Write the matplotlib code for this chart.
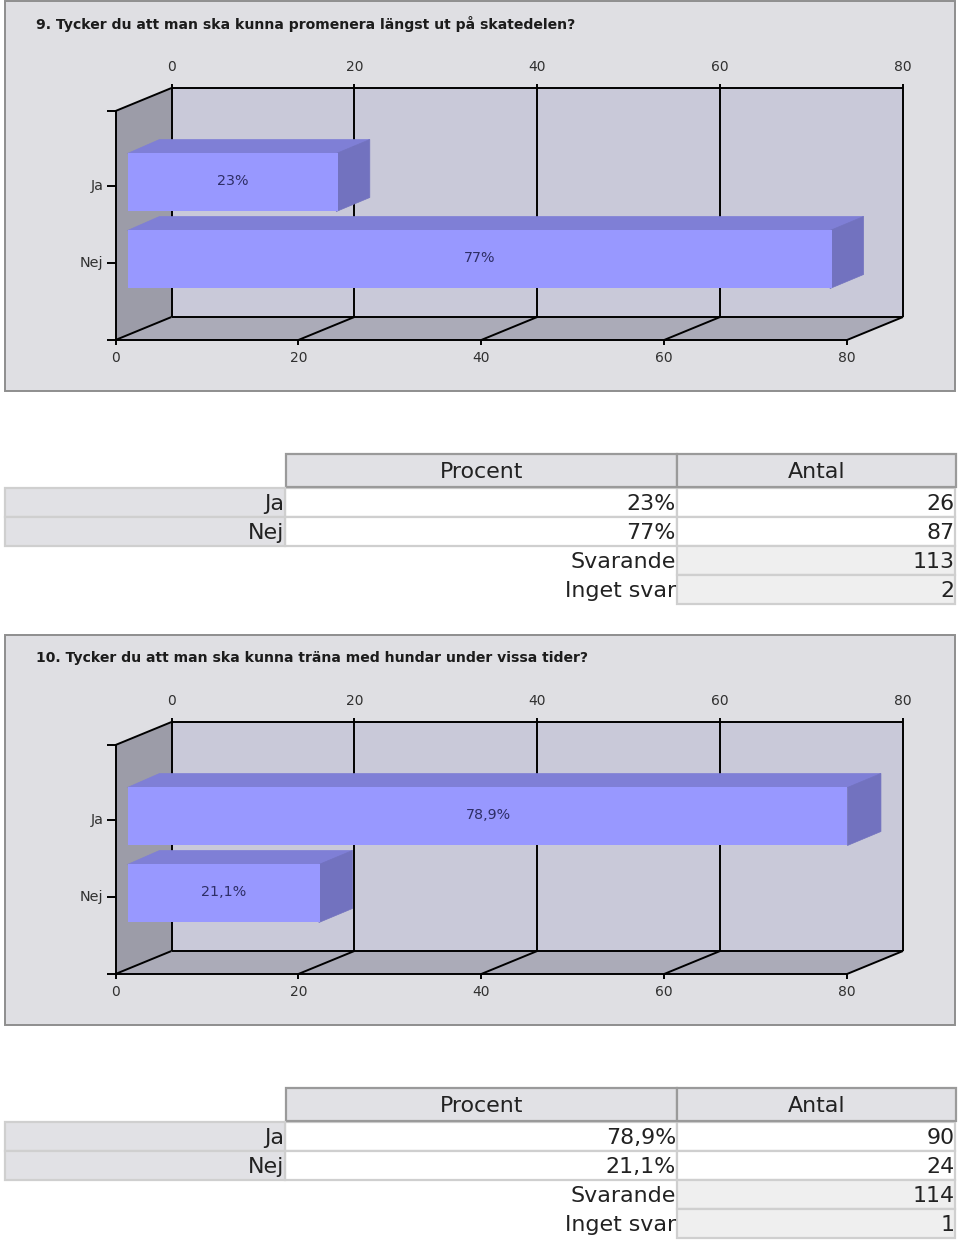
#!/usr/bin/env python3
"""Two survey questions: fake-3D bar charts with their answer tables."""

import matplotlib

matplotlib.use("Agg")
import matplotlib.pyplot as plt  # noqa: E402
from matplotlib.patches import Polygon, Rectangle  # noqa: E402

W, H = 960, 1240

titles = [
    "9. Tycker du att man ska kunna promenera längst ut på skatedelen?",
    "10. Tycker du att man ska kunna träna med hundar under vissa tider?",
]
categories = ["Ja", "Nej"]
percent_q9 = [23, 77]
percent_q10 = [78.9, 21.1]
bar_labels_q9 = ["23%", "77%"]
bar_labels_q10 = ["78,9%", "21,1%"]
counts_q9 = ["26", "87", "113", "2"]
counts_q10 = ["90", "24", "114", "1"]
x_ticks = [0, 20, 40, 60, 80]
summary_rows = ["Svarande", "Inget svar"]

PANEL = "#dfdfe3"
PANEL_EDGE = "#8e8e8e"
BACK = "#c9c9d9"
WALL = "#9c9ca8"
FLOOR = "#ababb8"
BAR_FRONT = "#9898ff"
BAR_TOP = "#7f7fd6"
BAR_SIDE = "#7272bf"
CELL = "#e1e1e5"
CELL_LIGHT = "#efefef"
RULE = "#cfcfcf"

# depth of the box and of each bar, in pixels
DEPTH_X, DEPTH_Y = 56, 23
BAR_DX, BAR_DY = 32, 14
PX_PER_UNIT = (847 - 115.5) / 80
PX_PER_ROW = 77.0


def chart(fig, top, values, labels, title):
    # overlay for the panel, same pixel system as the reference
    page = fig.axes[0]
    page.add_patch(Rectangle((5, top), 950, 390, facecolor=PANEL, edgecolor=PANEL_EDGE, linewidth=1.4, zorder=1))
    page.text(36, top + 23, title, fontsize=10.1, fontweight="bold", color="#1c1c1c", va="center", zorder=2)

    ax = fig.add_axes([115.5 / W, 1 - (top + 339) / H, (847 - 115.5) / W, 229 / H])
    ax.set_xlim(0, 80)
    ax.set_ylim(2, -0.974)
    ax.patch.set_visible(False)
    ax.set_axis_off()

    dx = DEPTH_X / PX_PER_UNIT
    dy = DEPTH_Y / PX_PER_ROW
    y0, y1 = 2, -0.974
    x0, x1 = x_ticks[0], x_ticks[-1]

    # box: back wall, left wall, floor
    ax.add_patch(Polygon([(x0 + dx, y1 - dy), (x1 + dx, y1 - dy), (x1 + dx, y0 - dy), (x0 + dx, y0 - dy)], facecolor=BACK, edgecolor="none", clip_on=False, zorder=1))
    ax.add_patch(Polygon([(x0, y1), (x0 + dx, y1 - dy), (x0 + dx, y0 - dy), (x0, y0)], facecolor=WALL, edgecolor="none", clip_on=False, zorder=1))
    ax.add_patch(Polygon([(x0, y0), (x1, y0), (x1 + dx, y0 - dy), (x0 + dx, y0 - dy)], facecolor=FLOOR, edgecolor="none", clip_on=False, zorder=1))

    line = dict(color="black", linewidth=1.4, clip_on=False, zorder=2, solid_capstyle="butt")
    tick_up = 4 / PX_PER_ROW
    tick_font = dict(ha="center", va="center", fontsize=10, color="#303030", zorder=5, clip_on=False)
    for t in x_ticks:
        ax.plot([t + dx, t + dx], [y1 - dy - tick_up, y0 - dy], **line)
        ax.plot([t, t + dx], [y0, y0 - dy], **line)
        ax.plot([t, t], [y0, y0 + 5 / PX_PER_ROW], **line)
        ax.text(t, y0 + 18 / PX_PER_ROW, str(t), **tick_font)
        ax.text(t + dx, y1 - dy - 21 / PX_PER_ROW, str(t), **tick_font)
    ax.plot([x0 + dx, x1 + dx], [y1 - dy, y1 - dy], **line)
    ax.plot([x0 + dx, x1 + dx], [y0 - dy, y0 - dy], **line)
    tick_left = 9 / PX_PER_UNIT
    ax.plot([x0 - tick_left, x1], [y0, y0], **line)
    ax.plot([x0, x0], [y1, y0], **line)
    ax.plot([x0 - tick_left, x0], [y1, y1], **line)
    ax.plot([x0, x0 + dx], [y1, y1 - dy], **line)

    # bars start a little way into the box
    inset = 12 / PX_PER_UNIT
    half = 29 / PX_PER_ROW
    shift = -3.5 / PX_PER_ROW
    bdx = BAR_DX / PX_PER_UNIT
    bdy = BAR_DY / PX_PER_ROW
    overlap = 1.5 / PX_PER_UNIT  # side slips under the front so no wall shows between them
    for row, (name, value, label) in enumerate(zip(categories, values, labels)):
        left, right = inset, value + inset
        up, down = row + shift - half, row + shift + half
        ax.add_patch(Polygon([(left, up), (left + bdx, up - bdy), (right + bdx, up - bdy), (right, up)], facecolor=BAR_TOP, edgecolor=BAR_TOP, linewidth=0.5, clip_on=False, zorder=3))
        ax.add_patch(Polygon([(right - overlap, up), (right + bdx, up - bdy), (right + bdx, down - bdy), (right - overlap, down)], facecolor=BAR_SIDE, edgecolor=BAR_SIDE, linewidth=0.5, clip_on=False, zorder=3))
        ax.barh(row + shift, value, height=2 * half, left=left, color=BAR_FRONT, edgecolor="none", zorder=4)
        ax.text((left + right) / 2, row + shift - 1.5 / PX_PER_ROW, label, ha="center", va="center", fontsize=10.3, color="#2e2e66", zorder=5)
        ax.plot([x0 - tick_left, x0], [row, row], **line)
        ax.text(x0 - 12 / PX_PER_UNIT, row, name, ha="right", va="center", fontsize=10.4, color="#303030", zorder=5, clip_on=False)


def table(page, top, values, labels, counts):
    edge = dict(edgecolor="#9a9a9a", linewidth=1.6, zorder=2)
    page.add_patch(Rectangle((285.5, top), 391.5, 33, facecolor=CELL, **edge))
    page.add_patch(Rectangle((677, top), 278.5, 33, facecolor=CELL, **edge))
    style = dict(fontsize=15.9, color="#222222", va="baseline", zorder=3)
    page.text(482, top + 24, "Procent", ha="center", **style)
    page.text(817, top + 24, "Antal", ha="center", **style)

    row_h = 29
    first = top + 33.5
    base = 22.5
    for i, name in enumerate(categories):
        y = first + i * row_h
        page.add_patch(Rectangle((5, y), 280, row_h, facecolor=CELL, edgecolor=RULE, linewidth=1.6, zorder=2))
        page.add_patch(Rectangle((285, y), 392, row_h, facecolor="white", edgecolor=RULE, linewidth=1.6, zorder=1.5))
        page.add_patch(Rectangle((677, y), 278, row_h, facecolor="white", edgecolor=RULE, linewidth=1.6, zorder=1.5))
        page.text(284, y + base, name, ha="right", **style)
        page.text(676, y + base, labels[i], ha="right", **style)
        page.text(955, y + base, counts[i], ha="right", **style)
    for i, name in enumerate(summary_rows):
        y = first + (i + 2) * row_h
        page.add_patch(Rectangle((677, y), 278, row_h, facecolor=CELL_LIGHT, edgecolor=RULE, linewidth=1.6, zorder=1.5))
        page.text(676, y + base, name, ha="right", **style)
        page.text(955, y + base, counts[i + 2], ha="right", **style)


def main():
    fig = plt.figure(figsize=(W / 100, H / 100), dpi=100, facecolor="white")
    page = fig.add_axes([0, 0, 1, 1])
    page.set_xlim(0, W)
    page.set_ylim(H, 0)
    page.set_axis_off()

    chart(fig, 1, percent_q9, bar_labels_q9, titles[0])
    table(page, 454, percent_q9, bar_labels_q9, counts_q9)
    chart(fig, 635, percent_q10, bar_labels_q10, titles[1])
    table(page, 1088, percent_q10, bar_labels_q10, counts_q10)

    fig.savefig("out.png", dpi=100)
    plt.close(fig)


if __name__ == "__main__":
    main()
